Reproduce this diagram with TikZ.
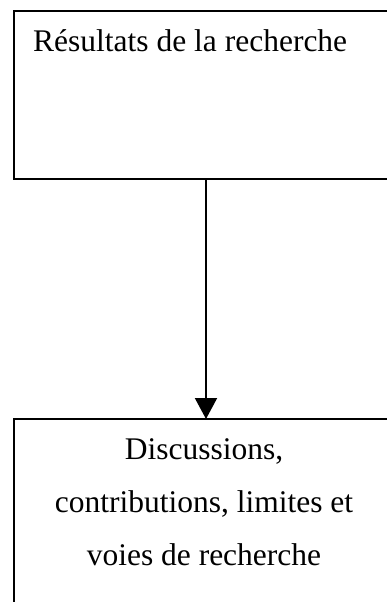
\documentclass[tikz,border=0pt]{standalone}
\usepackage{fontspec}
\setmainfont{Liberation Serif}
\usetikzlibrary{arrows.meta}
\begin{document}
\begin{tikzpicture}[x=1pt,y=-1pt,
  boxstyle/.style={draw=black,line width=2pt,rectangle,inner sep=0pt,outer sep=0pt,minimum width=384pt},
  txt/.style={inner sep=0pt,font=\fontsize{31.5}{53}\selectfont}]
\useasboundingbox (0,0) rectangle (387,602);
\clip (0,0) rectangle (387,602);
\node[boxstyle,minimum height=168pt,anchor=north west] (top) at (14,11) {};
\node[boxstyle,minimum height=210pt,anchor=north west] (bot) at (14,419) {};
\node[txt,anchor=base west] (t1) at (33,52) {Résultats de la recherche};
\node[txt,align=center,anchor=base] (t2) at (204,565) {Discussions,\\contributions, limites et\\voies de recherche};
\draw[line width=2pt,-{Triangle[width=22pt,length=21pt]}] (top.south) -- (bot.north);
\end{tikzpicture}
\end{document}
